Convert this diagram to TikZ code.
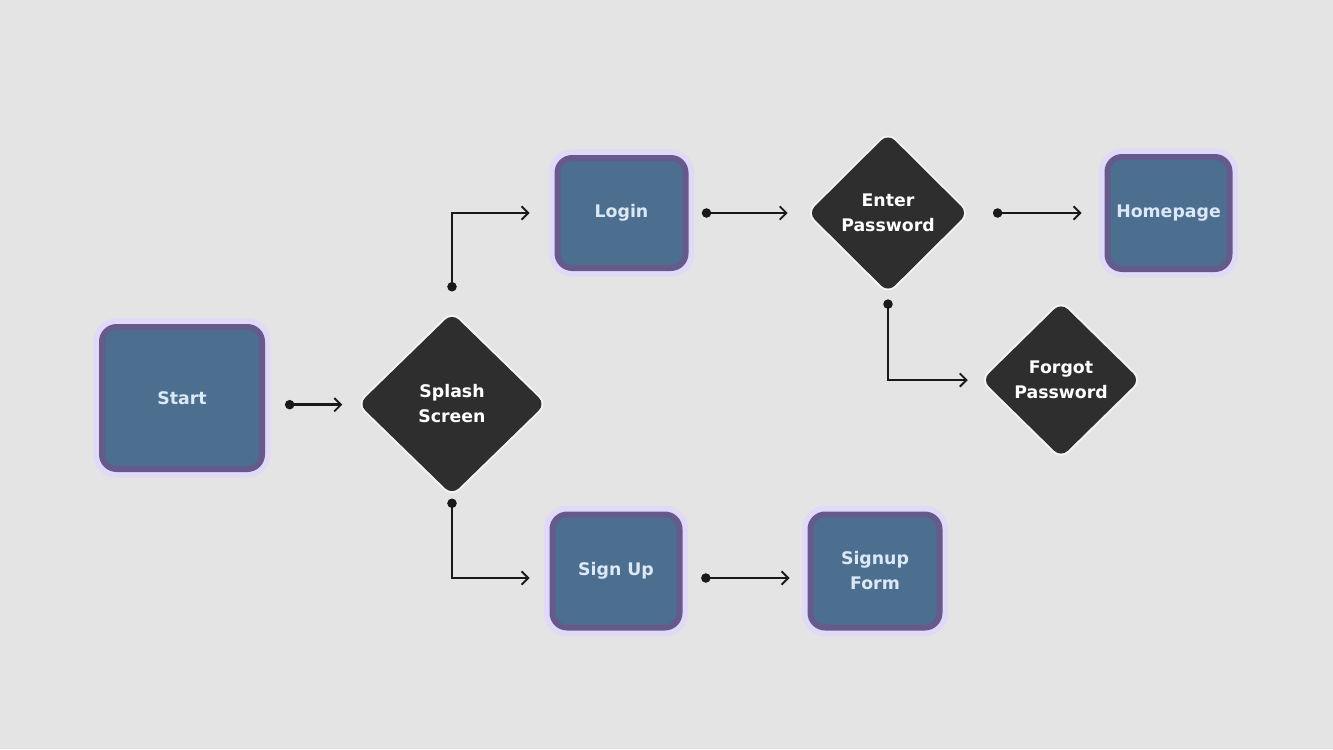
\documentclass[tikz,border=0pt]{standalone}
\usepackage{fontspec}
\setmainfont{DejaVu Sans}
\usetikzlibrary{shapes.geometric,arrows.meta}

\definecolor{bg}{HTML}{E4E4E4}
\definecolor{boxblue}{HTML}{4C6F8F}
\definecolor{boxedge}{HTML}{665A8C}
\definecolor{halo}{HTML}{E0D9F7}
\definecolor{boxtext}{HTML}{DCE8F6}
\definecolor{dia}{HTML}{2E2E2E}

\tikzset{
  every node/.style={font=\fontsize{13}{18.75}\selectfont\bfseries, align=center},
  screen/.style={rectangle, rounded corners=11pt, fill=boxblue, draw=boxedge,
    line width=4.5pt, text=boxtext, inner sep=0pt,
    preaction={draw=halo, line width=13pt}},
  decision/.style={diamond, rounded corners=7pt, fill=dia, text=white,
    inner sep=0pt, preaction={draw=white!60!bg, line width=3pt}},
  conn/.style={draw=black!90, line width=1.9pt,
    {Circle[length=7pt]}-{Straight Barb[length=5pt,width=10pt,line width=1.4pt]}},
}

\begin{document}
\begin{tikzpicture}[x=0.75pt, y=-0.75pt]
  \fill[bg] (0,0) rectangle (1333,749);
  \useasboundingbox (0,0) rectangle (1333,749);

  % screens
  \node[screen, minimum width=120pt, minimum height=106.5pt] (start) at (182,398) {Start};
  \node[screen, minimum width=96pt, minimum height=82.5pt] (login) at (621.5,213) {Login};
  \node[screen, minimum width=91.5pt, minimum height=84pt] (home) at (1168.5,213) {Homepage};
  \node[screen, minimum width=95.25pt, minimum height=84.75pt] (signup) at (616,571) {Sign Up};
  \node[screen, minimum width=96.75pt, minimum height=84.75pt] (form) at (875,571) {Signup\\Form};

  % decisions
  \node[decision, minimum width=140.25pt, minimum height=136.5pt] (splash) at (452,404) {Splash\\Screen};
  \node[decision, minimum width=120pt, minimum height=119.25pt] (enter) at (888,213) {Enter\\Password};
  \node[decision, minimum width=118.5pt, minimum height=116.25pt] (forgot) at (1061,380) {Forgot\\Password};

  % connectors
  \draw[conn, shorten <=15pt, shorten >=12pt] ([yshift=-5pt]start.east) -- ([yshift=-5pt]start.east -| splash.west);
  \draw[conn, shorten <=16pt, shorten >=18.75pt] (splash.north) |- (login.west);
  \draw[conn, shorten <=2.5pt, shorten >=15pt] (splash.south) |- ([yshift=-5.25pt]signup.west);
  \draw[conn, shorten <=10pt, shorten >=15pt] (login.east) -- (enter.west);
  \draw[conn, shorten <=18.5pt, shorten >=17.25pt] (enter.east) -- (home.west);
  \draw[conn, shorten <=5pt, shorten >=10.5pt] (enter.south) |- (forgot.west);
  \draw[conn, shorten <=14pt, shorten >=13.5pt] ([yshift=-5.25pt]signup.east) -- ([yshift=-5.25pt]form.west);
\end{tikzpicture}
\end{document}
